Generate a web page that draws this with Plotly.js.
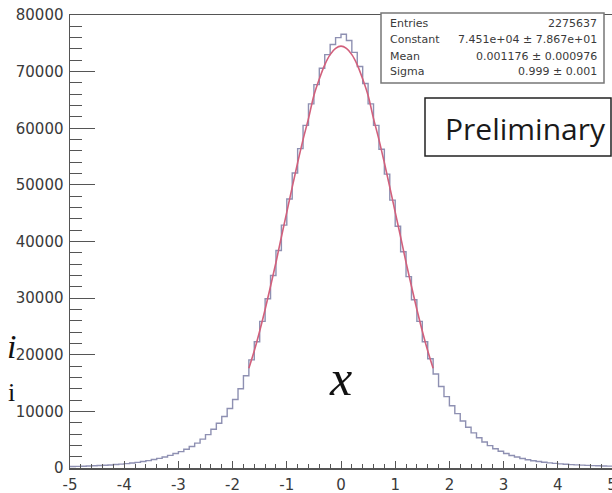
<!DOCTYPE html>
<html><head><meta charset="utf-8">
<script src="https://cdn.plot.ly/plotly-3.0.1.min.js"></script>
<style>html,body{margin:0;padding:0;background:#fff;overflow:hidden}#plot{width:612px;height:493px}</style>
</head><body><div id="plot"></div>
<script>
// ---- data ----
var histLow = -5;
var histBinWidth = 0.1;
var histCounts = [
  260, 290, 320, 350, 390, 430, 480, 540, 610, 690,
  780, 880, 1000, 1140, 1300, 1490, 1700, 1950, 2230, 2550,
  2900, 3300, 3800, 4400, 5100, 5900, 6850, 7900, 9100, 10500,
  12100, 14000, 16300, 19100, 22300, 25900, 29900, 34000, 38400, 42900,
  47500, 52100, 56400, 60500, 64300, 67700, 70600, 73000, 74800, 76000,
  76600, 75500, 73400, 70900, 67900, 64300, 60500, 56300, 51900, 47300,
  42700, 38200, 33800, 29700, 25900, 22300, 19300, 16600, 14400, 12600,
  11000, 9600, 8300, 7200, 6200, 5350, 4600, 3950, 3400, 2950,
  2550, 2220, 1930, 1680, 1470, 1290, 1140, 1010, 900, 810,
  730, 660, 600, 550, 500, 460, 420, 390, 360, 330
];
var fitX = [-1.7,-1.6,-1.5,-1.4,-1.3,-1.2,-1.1,-1.0,-0.9,-0.8,-0.7,-0.6,-0.5,-0.4,-0.3,-0.2,-0.1,0.0,
            0.1,0.2,0.3,0.4,0.5,0.6,0.7,0.8,0.9,1.0,1.1,1.2,1.3,1.4,1.5,1.6,1.7];
var fitY = [17600,20700,24200,28000,32100,36300,40800,45200,49600,53900,58000,61700,65800,68700,71200,73000,74100,74500,
            74100,73000,71200,68700,65800,61700,58000,53900,49600,45200,40800,36300,32100,28000,24200,20700,17600];
var xTickVals = [-5,-4,-3,-2,-1,0,1,2,3,4,5];
var xTickText = ["-5","-4","-3","-2","-1","0","1","2","3","4","5"];
var yTickVals = [0,10000,20000,30000,40000,50000,60000,70000,80000];
var yTickText = ["0","10000","20000","30000","40000","50000","60000","70000","80000"];
var statLabels = ["Entries","Constant","Mean","Sigma"];
var statValues = ["2275637","7.451e+04 \u00b1 7.867e+01","0.001176 \u00b1 0.000976","0.999 \u00b1 0.001"];
var stampText = "Preliminary";
var centerLabel = "x";
var sideLabels = ["i","i"];

// ---- build ----
var hx = [], hy = [];
for (var i = 0; i < histCounts.length; i++) { hx.push(histLow + i*histBinWidth); hy.push(histCounts[i]); }
hx.push(histLow + histCounts.length*histBinWidth); hy.push(histCounts[histCounts.length-1]);

var W = 612, H = 493, ML = 70, MR = 0, MT = 15, MB = 25;
var PW = W - ML - MR, PH = H - MT - MB;
function xp(px){ return (px - ML)/PW; }
function yp(py){ return (H - MB - py)/PH; }

var axisCol = '#555', txtCol = '#3a3a3a';
var tickFont = {family:'DejaVu Sans', size:15, color:txtCol};

var traces = [
  {x:hx, y:hy, type:'scatter', mode:'lines', line:{shape:'hv', color:'#8e90b2', width:1.4}, hoverinfo:'skip'},
  {x:fitX, y:fitY, type:'scatter', mode:'lines', line:{shape:'spline', color:'#d2607c', width:1.6}, hoverinfo:'skip'}
];

var ann = [];
var rowY = [24, 40, 56, 72];
for (var k = 0; k < statLabels.length; k++) {
  ann.push({xref:'paper', yref:'paper', x:xp(388), y:yp(rowY[k]), xanchor:'left', yanchor:'middle', text:statLabels[k], showarrow:false, font:{family:'DejaVu Sans', size:11, color:txtCol}});
  ann.push({xref:'paper', yref:'paper', x:xp(599), y:yp(rowY[k]), xanchor:'right', yanchor:'middle', text:statValues[k], showarrow:false, font:{family:'DejaVu Sans', size:11, color:txtCol}});
}
ann.push({xref:'paper', yref:'paper', x:xp(443), y:yp(128), xanchor:'left', yanchor:'middle', text:stampText, showarrow:false, font:{family:'Open Sans', size:30, color:'#1a1a1a'}});
ann.push({xref:'paper', yref:'paper', x:xp(340), y:yp(378), xanchor:'center', yanchor:'middle', text:'<i>'+centerLabel+'</i>', showarrow:false, font:{family:'Liberation Serif', size:50, color:'#111'}});
ann.push({xref:'paper', yref:'paper', x:xp(11), y:yp(346), xanchor:'center', yanchor:'middle', text:'<i>'+sideLabels[0]+'</i>', showarrow:false, font:{family:'Liberation Serif', size:34, color:'#111'}});
ann.push({xref:'paper', yref:'paper', x:xp(11), y:yp(392), xanchor:'center', yanchor:'middle', text:sideLabels[1], showarrow:false, font:{family:'Liberation Serif', size:26, color:'#111'}});

var shapes = [
  {type:'rect', xref:'paper', yref:'paper', x0:xp(381), x1:xp(604), y0:yp(83), y1:yp(13), line:{color:'#777', width:1.5}, fillcolor:'#fff', layer:'above'},
  {type:'rect', xref:'paper', yref:'paper', x0:xp(425), x1:xp(611), y0:yp(156), y1:yp(98), line:{color:'#222', width:1.5}, fillcolor:'#fff', layer:'above'}
];

var layout = {
  width:W, height:H, margin:{l:ML, r:MR, t:MT, b:MB, pad:0},
  paper_bgcolor:'#fff', plot_bgcolor:'#fff', showlegend:false,
  xaxis:{range:[-5,5], tickmode:'array', tickvals:xTickVals, ticktext:xTickText, ticks:'inside', ticklen:7, tickwidth:1, tickcolor:axisCol,
         showline:true, linecolor:axisCol, linewidth:1.5, mirror:true, showgrid:false, zeroline:false, tickfont:tickFont,
         ticklabeloverflow:'allow', ticklabelstandoff:2,
         minor:{tick0:-5, dtick:0.2, ticks:'inside', ticklen:4, tickwidth:1, tickcolor:axisCol, showgrid:false}, fixedrange:true},
  yaxis:{range:[0,80000], tickmode:'array', tickvals:yTickVals, ticktext:yTickText, ticks:'inside', ticklen:25, tickwidth:1, tickcolor:axisCol,
         showline:true, linecolor:axisCol, linewidth:1.5, mirror:true, showgrid:false, zeroline:false, tickfont:tickFont,
         ticklabeloverflow:'allow', ticklabelstandoff:2,
         minor:{tick0:0, dtick:2000, ticks:'inside', ticklen:12, tickwidth:1, tickcolor:axisCol, showgrid:false}, fixedrange:true},
  annotations:ann, shapes:shapes
};
Plotly.newPlot('plot', traces, layout, {displayModeBar:false, staticPlot:true});
</script></body></html>
